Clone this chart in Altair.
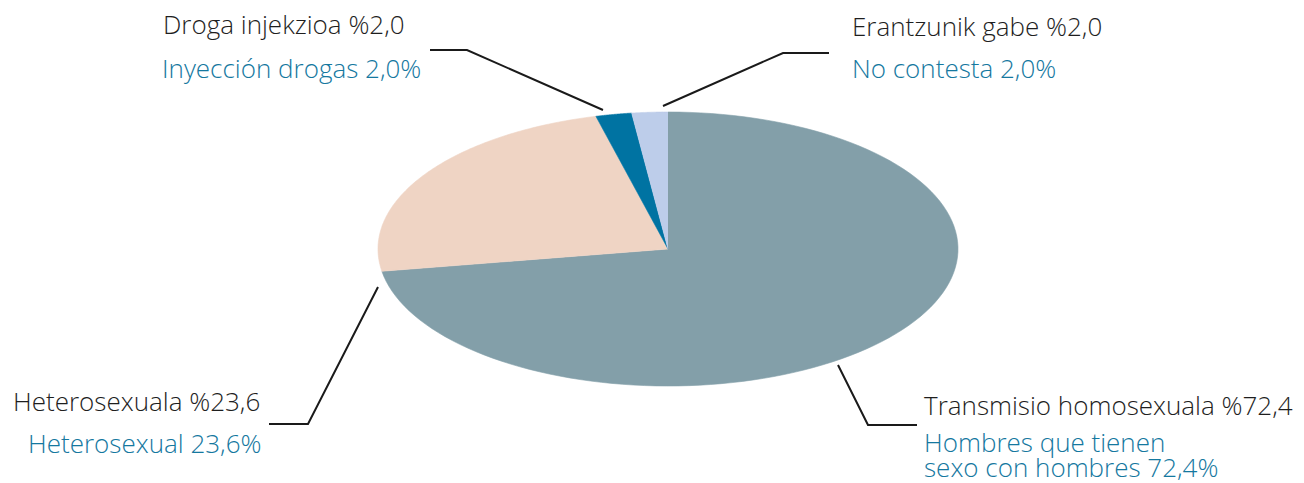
import altair as alt
import pandas as pd

# ---- data ----
categories = ["Transmisio homosexuala", "Heterosexuala", "Droga injekzioa", "Erantzunik gabe"]
values = [72.4, 23.6, 2.0, 2.0]
slice_colors = ["#839fa9", "#efd4c4", "#0073a2", "#bdcdea"]

labels_eu = ["Transmisio homosexuala %72,4", "Heterosexuala %23,6",
             "Droga injekzioa %2,0", "Erantzunik gabe %2,0"]
labels_es = ["Hombres que tienen\nsexo con hombres 72,4%", "Heterosexual 23,6%",
             "Inyección drogas 2,0%", "No contesta 2,0%"]

# ---- layout (pixel-like units, centre of pie = 0,0) ----
RX, RY, N = 290, 137, 120
eu_x = [256, -655, -505, 184]
eu_y = [-166, -162, 215, 213]
es_x = [256, -640, -506, 184]
es_y = [-203, -204, 171, 171]
leader_x = [[170, 200, 249], [-290, -360, -399], [-65, -201, -238], [-5, 115, 161]]
leader_y = [[-116, -176, -176], [-38, -175, -175], [139, 199, 199], [143, 196, 196]]

xscale = alt.Scale(domain=[-660, 628], zero=False, nice=False)
yscale = alt.Scale(domain=[-233, 241], zero=False, nice=False)

pie_df = pd.DataFrame({"category": categories, "value": values, "idx": list(range(len(values)))})

color_scale = alt.Scale(domain=categories, range=slice_colors)

pie = alt.Chart(pie_df).transform_window(
    cum="sum(value)", sort=[alt.SortField("idx")], frame=[None, 0]
).transform_joinaggregate(
    total="sum(value)"
).transform_calculate(
    a0="2*PI*(datum.cum - datum.value)/datum.total",
    a1="2*PI*datum.cum/datum.total",
    k=f"sequence(0, {N + 2})",
).transform_flatten(["k"]).transform_calculate(
    ang=f"datum.a0 + (datum.a1 - datum.a0)*(datum.k - 1)/{N}",
    px=f"datum.k == 0 ? 0 : {RX}*sin(datum.ang)",
    py=f"datum.k == 0 ? 0 : {RY}*cos(datum.ang)",
).mark_line(strokeWidth=0.6, interpolate="linear").encode(
    x=alt.X("px:Q", scale=xscale, axis=None),
    y=alt.Y("py:Q", scale=yscale, axis=None),
    fill=alt.Fill("category:N", scale=color_scale, legend=None),
    stroke=alt.Stroke("category:N", scale=color_scale, legend=None),
    detail="category:N",
    order="k:Q",
)

lead_rows = []
for i, (xs, ys) in enumerate(zip(leader_x, leader_y)):
    for j, (x, y) in enumerate(zip(xs, ys)):
        lead_rows.append({"g": i, "s": j, "x": x, "y": y})
lead_df = pd.DataFrame(lead_rows)

leaders = alt.Chart(lead_df).mark_line(color="#1a1a1a", strokeWidth=2).encode(
    x=alt.X("x:Q", scale=xscale, axis=None),
    y=alt.Y("y:Q", scale=yscale, axis=None),
    detail="g:N",
    order="s:Q",
)

eu_df = pd.DataFrame({"t": labels_eu, "x": eu_x, "y": eu_y})
es_df = pd.DataFrame({"t": labels_es, "x": es_x, "y": es_y})

FONT = "Open Sans"
FS = 26

text_eu = alt.Chart(eu_df).mark_text(
    align="left", baseline="alphabetic", font=FONT, fontSize=FS, fontWeight=300, color="#1e1e1e"
).encode(
    x=alt.X("x:Q", scale=xscale, axis=None),
    y=alt.Y("y:Q", scale=yscale, axis=None),
    text="t:N",
)

text_es = alt.Chart(es_df).mark_text(
    align="left", baseline="alphabetic", font=FONT, fontSize=FS, fontWeight=300,
    color="#15789f", lineBreak="\n", lineHeight=25
).encode(
    x=alt.X("x:Q", scale=xscale, axis=None),
    y=alt.Y("y:Q", scale=yscale, axis=None),
    text="t:N",
)

chart = alt.layer(pie, leaders, text_eu, text_es).properties(
    width=1288, height=474, padding=0,
    autosize=alt.AutoSizeParams(type="none"),
).configure_view(strokeWidth=0)

chart.save("out.html", embed_options={"renderer": "svg", "actions": False})
